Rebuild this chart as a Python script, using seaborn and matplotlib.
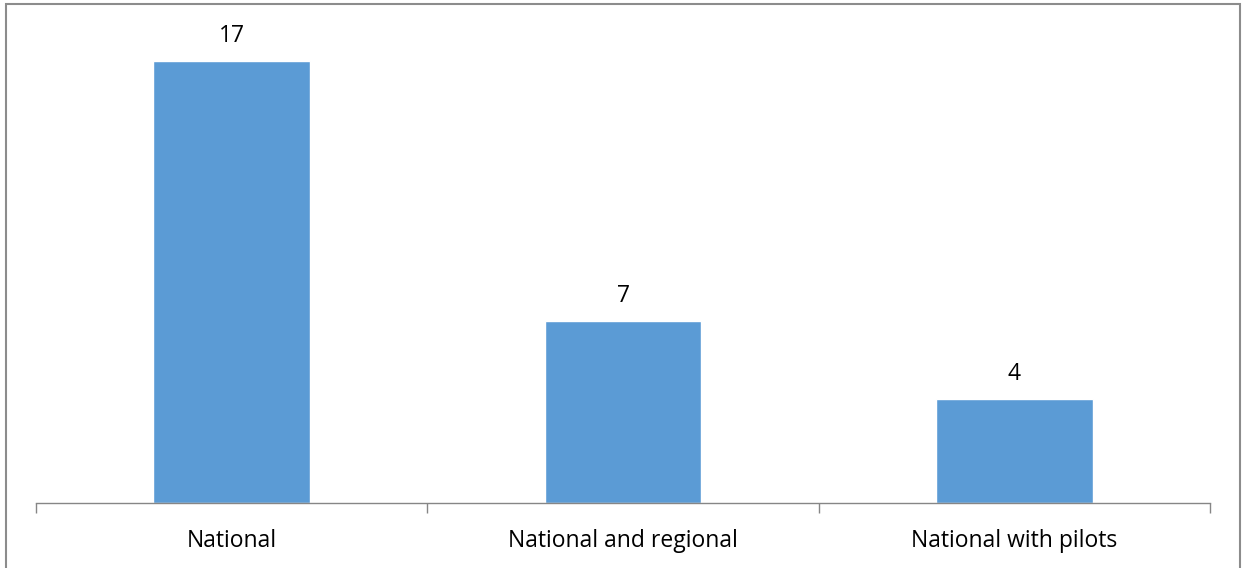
import matplotlib
matplotlib.use("Agg")
import matplotlib.pyplot as plt
import seaborn as sns
import pandas as pd
from matplotlib.patches import Rectangle

categories = ["National", "National and regional", "National with pilots"]
values = [17, 7, 4]

df = pd.DataFrame({"category": categories, "value": values})

sns.set_theme(style="white")
plt.rcParams['font.family'] = ['Open Sans', 'DejaVu Sans']

fig = plt.figure(figsize=(12.43, 5.68), dpi=100)
ax = fig.add_axes([36/1243, 65/568, (1210-36)/1243, 468/568])

sns.barplot(data=df, x="category", y="value", color="#5B9BD5", width=0.4,
            saturation=1, ax=ax)

ax.set_ylim(0, 18)
ax.set_xlim(-0.5, 2.5)
ax.set_xlabel("")
ax.set_ylabel("")
ax.set_yticks([])
for s in ["top", "right", "left"]:
    ax.spines[s].set_visible(False)
ax.spines["bottom"].set_color("#868686")
ax.spines["bottom"].set_linewidth(1.0)

ax.tick_params(axis="x", which="major", length=0, pad=19, labelsize=16.5, labelcolor="#000000")
ax.set_xticks([-0.5, 0.5, 1.5, 2.5], minor=True)
ax.tick_params(axis="x", which="minor", length=7, width=1.0, color="#868686", direction="out")
ax.xaxis.set_ticks_position("bottom")

for container in ax.containers:
    ax.bar_label(container, labels=[str(v) for v in values], padding=9.5, fontsize=16.5, color="#000000")

fig.patches.append(Rectangle((6/1243, -0.05), (1240-6)/1243, 1.05 - 4/568,
                             transform=fig.transFigure, fill=False,
                             edgecolor="#8c8c8c", linewidth=1.5))

fig.savefig("out.png", dpi=100)
